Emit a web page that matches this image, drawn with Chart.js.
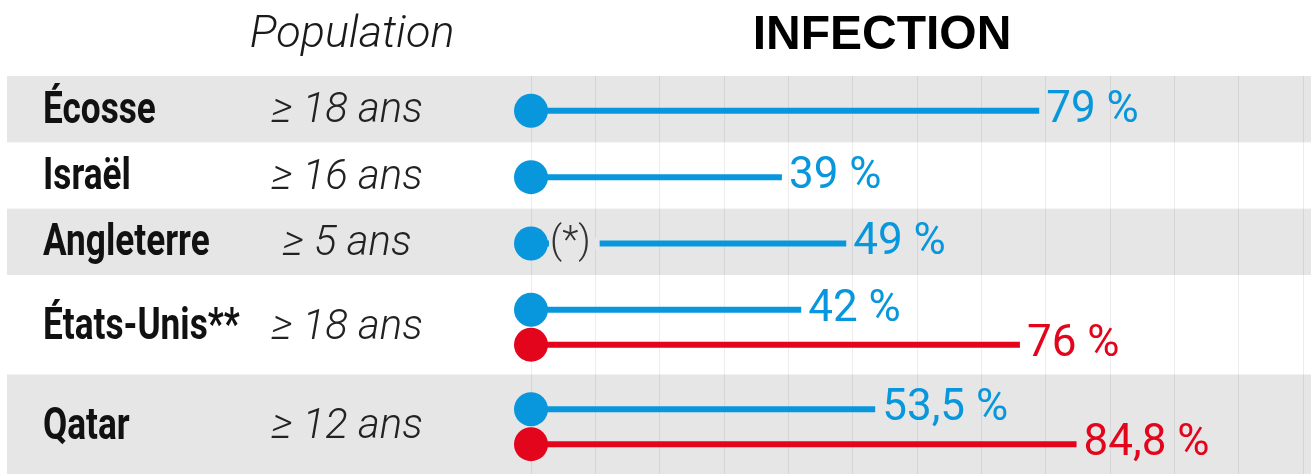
<!DOCTYPE html>
<html lang="fr">
<head>
<meta charset="utf-8">
<script src="https://cdn.jsdelivr.net/npm/chart.js@4.4.1/dist/chart.umd.min.js"></script>
<style>
  body { margin: 0; background: #fff; }
  #wrap { width: 1311px; height: 474px; }
</style>
</head>
<body>
<div id="wrap"><canvas id="infChart" width="1311" height="474"></canvas></div>
<script>
const countries = ['Écosse', 'Israël', 'Angleterre', 'États-Unis**', 'Qatar'];
const ages = ['≥ 18 ans', '≥ 16 ans', '≥ 5 ans', '≥ 18 ans', '≥ 12 ans'];
const notes = ['', '', '(*)', '', ''];
const blueValues = [79, 39, 49, 42, 53.5];
const redValues = [null, null, null, 76, 84.8];
const gridTicks = [0, 10, 20, 30, 40, 50, 60, 70, 80, 90, 100, 110, 120];

const BLUE = '#0897dc';
const RED = '#e3051b';
const BAND = '#e6e6e6';

// row layout: one series = 2 units tall, two series = 3 units
const rows = [];
let start = 0;
countries.forEach((c, i) => {
  const n = redValues[i] == null ? 1 : 2;
  const blueY = start + 1.05;
  const redY = n === 2 ? start + 2.1 : null;
  rows.push({ start, end: start + n + 1, blueY, redY, mid: n === 2 ? (blueY + redY) / 2 : blueY });
  start += n + 1;
});

const fmt = v => `${String(v).replace('.', ',')} %`;

const datasets = [];
countries.forEach((c, i) => {
  datasets.push({ color: BLUE, value: blueValues[i], note: notes[i], row: i,
    data: [{ x: 0, y: rows[i].blueY }, { x: blueValues[i], y: rows[i].blueY }] });
  if (redValues[i] != null) {
    datasets.push({ color: RED, value: redValues[i], note: '', row: i,
      data: [{ x: 0, y: rows[i].redY }, { x: redValues[i], y: rows[i].redY }] });
  }
});

const bandsPlugin = {
  id: 'bands',
  beforeDraw(chart) {
    const { ctx, scales: { y } } = chart;
    ctx.save();
    ctx.fillStyle = BAND;
    rows.forEach((r, i) => {
      if (i % 2) return;
      const top = y.getPixelForValue(r.start);
      const bottom = y.getPixelForValue(r.end);
      ctx.fillRect(7, top, chart.width - 7, bottom - top);
    });
    ctx.restore();
  }
};

// condensed bold for the country names
function narrowText(ctx, text, x, y, sx) {
  ctx.save();
  ctx.translate(x, y);
  ctx.scale(sx, 1);
  ctx.fillText(text, 0, 0);
  ctx.restore();
}

const textPlugin = {
  id: 'texts',
  afterDatasetsDraw(chart) {
    const { ctx, scales: { y } } = chart;
    ctx.save();
    ctx.textBaseline = 'middle';

    // headers
    ctx.fillStyle = '#1a1a1a';
    ctx.textAlign = 'center';
    ctx.font = 'italic 300 45px Roboto';
    ctx.fillText('Population', 352, 36);
    ctx.fillStyle = '#000';
    ctx.font = 'bold 48px "Liberation Sans"';
    ctx.fillText('INFECTION', 882, 36);

    // row labels
    rows.forEach((r, i) => {
      const ym = y.getPixelForValue(r.mid) + 1;
      ctx.textAlign = 'left';
      ctx.fillStyle = '#111';
      ctx.font = 'bold 44px Roboto';
      narrowText(ctx, countries[i], 43, ym, 0.8);
      ctx.textAlign = 'center';
      ctx.fillStyle = '#222';
      ctx.font = 'italic 300 42px Roboto';
      ctx.fillText(ages[i], 347, ym);
    });

    // value labels + notes
    chart.data.datasets.forEach((ds, di) => {
      const pts = chart.getDatasetMeta(di).data;
      const p0 = pts[0], p1 = pts[1];
      ctx.textAlign = 'left';
      ctx.fillStyle = ds.color;
      ctx.font = '44px Roboto';
      ctx.fillText(fmt(ds.value), p1.x + 7, p1.y);
      if (ds.note) {
        ctx.font = '300 38px Roboto';
        const w = ctx.measureText(ds.note).width;
        const nx = p0.x + 18;
        ctx.fillStyle = ds.row % 2 ? '#fff' : BAND;
        ctx.fillRect(nx, p0.y - 6, w + 10, 12);
        ctx.fillStyle = '#333';
        ctx.fillText(ds.note, nx + 1, p0.y);
      }
    });
    ctx.restore();
  }
};

new Chart(document.getElementById('infChart'), {
  type: 'scatter',
  data: {
    datasets: datasets.map(d => ({
      ...d,
      showLine: true,
      clip: false,
      borderColor: d.color,
      backgroundColor: d.color,
      borderWidth: 6,
      borderCapStyle: 'butt',
      pointRadius: ctx => ctx.dataIndex === 0 ? 17 : 0,
      pointHoverRadius: ctx => ctx.dataIndex === 0 ? 17 : 0,
      pointBorderWidth: 0
    }))
  },
  options: {
    responsive: false,
    animation: false,
    events: [],
    layout: { autoPadding: false, padding: { left: 531, right: 8, top: 76, bottom: 0 } },
    plugins: { legend: { display: false }, tooltip: { enabled: false } },
    scales: {
      x: {
        min: 0, max: 120,
        afterBuildTicks: s => { s.ticks = gridTicks.map(v => ({ value: v })); },
        ticks: { display: false },
        grid: { color: 'rgba(0,0,0,0.07)', lineWidth: 1, drawTicks: false },
        border: { display: false }
      },
      y: { display: false, min: 0, max: 12, reverse: true }
    }
  },
  plugins: [bandsPlugin, textPlugin]
});
</script>
</body>
</html>
